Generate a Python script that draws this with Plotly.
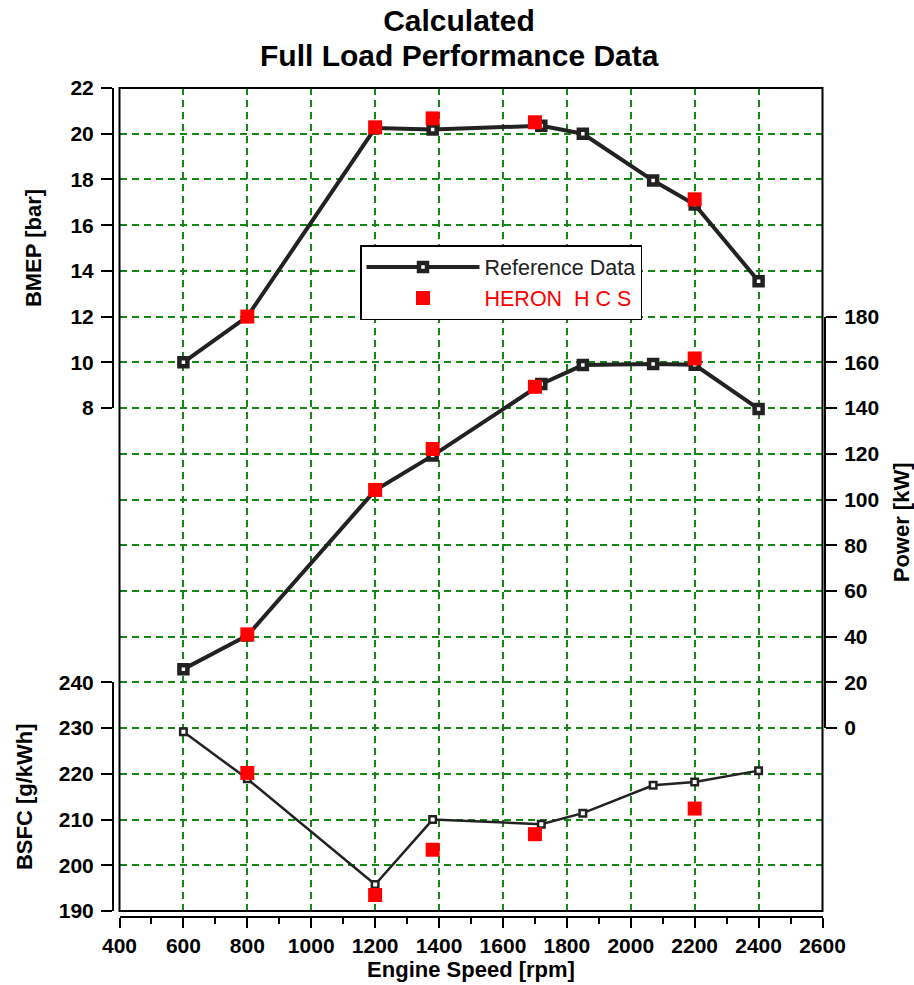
import plotly.graph_objects as go

# ---------------- data ----------------
rpm_ref = [600, 800, 1200, 1380, 1720, 1850, 2070, 2200, 2400]
bmep_ref = [10.0, 12.0, 20.25, 20.18, 20.35, 20.0, 17.95, 16.9, 13.55]
power_ref = [25.8, 40.5, 104.0, 119.2, 150.5, 158.8, 159.3, 158.9, 139.6]
bsfc_ref = [229.2, 218.9, 195.8, 210.0, 209.0, 211.4, 217.5, 218.2, 220.7]

rpm_heron = [800, 1200, 1380, 1700, 2200]
bmep_heron = [12.0, 20.28, 20.67, 20.5, 17.13]
power_heron = [41.0, 104.2, 122.1, 149.3, 161.7]
bsfc_heron = [220.2, 193.5, 203.4, 206.8, 212.4]

x_ticks = list(range(400, 2601, 200))
bmep_ticks = list(range(8, 23, 2))
power_ticks = list(range(0, 181, 20))
bsfc_ticks = list(range(190, 241, 10))

# ---------------- geometry (screen pixels; body margin removed via post_script) ----------------
OFF = 0
SW, SH = 914, 985
W, H = SW - OFF, SH - OFF
PAPER_L, PAPER_R, PAPER_T, PAPER_B = 113, 825, 88, 917
ML, MR, MT, MB = PAPER_L - OFF, SW - PAPER_R, PAPER_T - OFF, SH - PAPER_B
PW, PH = PAPER_R - PAPER_L, PAPER_B - PAPER_T
PLOT_L, PLOT_R, PLOT_T, PLOT_B = 119.5, 822.5, 88.0, 911.0
ROWS = 18
UNIT = (PLOT_B - PLOT_T) / ROWS


def fx(sx):
    return (sx - PAPER_L) / PW


def fy(sy):
    return (PAPER_B - sy) / PH


def row(r):
    return PLOT_T + r * UNIT


xdom = [fx(PLOT_L), fx(PLOT_R)]
plot_ydom = [fy(PLOT_B), fy(PLOT_T)]
bmep_dom = [fy(row(7)), fy(row(0))]
power_dom = [fy(row(14)), fy(row(5))]
bsfc_dom = [fy(row(18)), fy(row(13))]

FONT = "Liberation Sans, Arial, sans-serif"
DARK = "#222222"
GRID = "rgb(20,135,20)"
tickfont = dict(family=FONT, size=21, color="black", weight="bold")
titlefont = dict(family=FONT, size=22, color="black", weight="bold")
headfont = dict(family=FONT, size=30, color="black", weight="bold")
TITLE_CX = 459

fig = go.Figure()

# grid carrier (empty)
fig.add_trace(go.Scatter(x=[], y=[], xaxis="x", yaxis="y", showlegend=False, hoverinfo="skip"))

ref_line = dict(color=DARK, width=4)
ref_marker = dict(symbol="square", size=8, color="white", line=dict(color=DARK, width=4.5))
heron_marker = dict(symbol="square", size=14, color="#ff0000", line=dict(width=0))

# BMEP
fig.add_trace(go.Scatter(x=rpm_ref, y=bmep_ref, xaxis="x2", yaxis="y2", mode="lines+markers",
                         line=ref_line, marker=ref_marker, name="Reference Data",
                         legendrank=1, cliponaxis=False))
fig.add_trace(go.Scatter(x=rpm_heron, y=bmep_heron, xaxis="x2", yaxis="y2", mode="markers",
                         marker=heron_marker,
                         name="<span style='color:#ff0000'>HERON\u00a0\u00a0H\u00a0C\u00a0S</span>",
                         legendrank=2, cliponaxis=False))
# Power
fig.add_trace(go.Scatter(x=rpm_ref, y=power_ref, xaxis="x2", yaxis="y3", mode="lines+markers",
                         line=ref_line, marker=ref_marker, showlegend=False, cliponaxis=False))
fig.add_trace(go.Scatter(x=rpm_heron, y=power_heron, xaxis="x2", yaxis="y3", mode="markers",
                         marker=heron_marker, showlegend=False, cliponaxis=False))
# BSFC
fig.add_trace(go.Scatter(x=rpm_ref, y=bsfc_ref, xaxis="x2", yaxis="y4", mode="lines+markers",
                         line=dict(color=DARK, width=2.5),
                         marker=dict(symbol="square", size=6.5, color="white", line=dict(color=DARK, width=2.5)),
                         showlegend=False, cliponaxis=False))
fig.add_trace(go.Scatter(x=rpm_heron, y=bsfc_heron, xaxis="x2", yaxis="y4", mode="markers",
                         marker=heron_marker, showlegend=False, cliponaxis=False))

common_y = dict(showgrid=False, zeroline=False, showline=True, linecolor="black", linewidth=2,
                ticks="outside", ticklen=11, tickwidth=2, tickcolor="black", tickfont=tickfont,
                ticklabelstandoff=3, anchor="free", fixedrange=True, automargin=False)

fig.update_layout(
    width=W, height=H,
    margin=dict(l=ML, r=MR, t=MT, b=MB, pad=0, autoexpand=False),
    paper_bgcolor="white", plot_bgcolor="rgba(0,0,0,0)",
    font=dict(family=FONT, color="black"),
    title=dict(text="Calculated", x=(TITLE_CX - OFF) / W, xanchor="center", xref="container",
               y=1 - (20 - OFF) / H, yanchor="middle", yref="container", automargin=False,
               font=headfont),
    annotations=[dict(text="Full Load Performance Data", xref="paper", yref="paper",
                      x=fx(TITLE_CX), y=fy(56), xanchor="center", yanchor="middle", showarrow=False,
                      font=headfont)],
    xaxis=dict(domain=xdom, range=[400, 2600], anchor="free", position=0,
               tickvals=x_ticks, ticks="outside", ticklen=10, tickwidth=2, tickcolor="black",
               minor=dict(dtick=100, tick0=400, ticks="outside", ticklen=6, tickwidth=1.5, tickcolor="black",
                          showgrid=False),
               showline=True, linecolor="black", linewidth=2, tickfont=tickfont,
               showgrid=True, gridcolor=GRID, gridwidth=1.5, griddash="7px,5px", zeroline=False,
               title=dict(text="Engine Speed [rpm]", font=titlefont, standoff=4), fixedrange=True,
               automargin=False),
    yaxis=dict(domain=plot_ydom, range=[0, ROWS], tick0=0, dtick=1, showticklabels=False, ticks="",
               showline=False, zeroline=False, showgrid=True, gridcolor=GRID, gridwidth=1.5,
               griddash="7px,5px", anchor="x", fixedrange=True, automargin=False),
    xaxis2=dict(domain=xdom, range=[400, 2600], matches="x", visible=False, anchor="y2", automargin=False),
    yaxis2=dict(domain=bmep_dom, range=[8, 22], tickvals=bmep_ticks, side="left", position=0,
                title=dict(text="BMEP [bar]", font=titlefont, standoff=22), **common_y),
    yaxis3=dict(domain=power_dom, range=[0, 180], tickvals=power_ticks, side="right", position=1,
                title=dict(text="Power [kW]", font=titlefont, standoff=14), **common_y),
    yaxis4=dict(domain=bsfc_dom, range=[190, 240], tickvals=bsfc_ticks, side="left", position=0,
                title=dict(text="BSFC [g/kWh]", font=titlefont, standoff=19), **common_y),
    legend=dict(x=fx(360), y=fy(245), xanchor="left", yanchor="top",
                bgcolor="white", bordercolor="black", borderwidth=1.5,
                font=dict(family=FONT, size=21.5, color=DARK), itemwidth=113,
                tracegroupgap=0, traceorder="normal"),
    shapes=[dict(type="rect", xref="paper", yref="paper", x0=xdom[0], x1=xdom[1],
                 y0=plot_ydom[0], y1=plot_ydom[1], line=dict(color="black", width=2),
                 fillcolor="rgba(0,0,0,0)", layer="above")],
    showlegend=True,
)

fig.write_html("out.html", config={"displayModeBar": False, "staticPlot": False},
               post_script="document.body.style.margin='0px';")
